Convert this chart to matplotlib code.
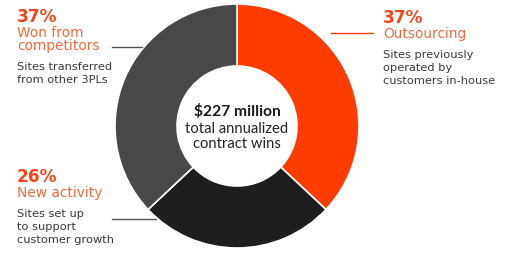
import matplotlib.pyplot as plt

shares = [37, 26, 37]
pcts = ['37%', '26%', '37%']
names = ['Outsourcing', 'New activity', 'Won from\ncompetitors']
notes = ['Sites previously\noperated by\ncustomers in-house',
         'Sites set up\nto support\ncustomer growth',
         'Sites transferred\nfrom other 3PLs']
colors = ['#ff3c00', '#1e1e1e', '#484848']
center_title = '$227 million'
center_sub = 'total annualized\ncontract wins'

W, H = 510, 257
fig = plt.figure(figsize=(W / 100, H / 100), dpi=100)
ax = fig.add_axes([0, 0, 1, 1])

def y(p):
    # pixel row from top -> data y
    return H - p

cx, cy, r = 237, y(126), 122
ax.pie(shares, colors=colors, startangle=90, counterclock=False,
       center=(cx, cy), radius=r, frame=True,
       wedgeprops=dict(width=62, edgecolor='white', linewidth=1.2))
ax.set_xlim(0, W)
ax.set_ylim(0, H)
ax.set_aspect('equal')
ax.axis('off')

orange = '#f0461a'
orange_l = '#f06a40'
gray = '#3a3a3a'
fam = 'DejaVu Sans'

def block(x, top, i):
    ax.text(x, y(top), pcts[i], color=orange, fontsize=12.2, fontweight='bold',
            family=fam, va='baseline')
    b = top + 15
    for ln in names[i].split('\n'):
        ax.text(x, y(b), ln, color=orange_l, fontsize=9.9, family=fam,
                va='baseline')
        b += 13
    b += 7
    for ln in notes[i].split('\n'):
        ax.text(x, y(b), ln, color=gray, fontsize=8.2, family=fam,
                va='baseline')
        b += 13

block(383, 23, 0)
block(17, 182, 1)
block(17, 22, 2)

# leader lines
ax.plot([331, 373], [y(33), y(33)], color='#ff3c00', lw=1)
ax.plot([112, 142], [y(47), y(47)], color='#555555', lw=1)
ax.plot([112, 156], [y(219), y(219)], color='#555555', lw=1)

ax.text(cx, y(116), center_title, color='#1a1a1a', fontsize=11.2, fontweight='bold',
        family='Lato', ha='center', va='baseline')
bb = 133
for ln in center_sub.split('\n'):
    ax.text(cx, y(bb), ln, color='#222222', fontsize=10.6, family='Lato',
            ha='center', va='baseline')
    bb += 15

fig.savefig('out.png', dpi=100)
